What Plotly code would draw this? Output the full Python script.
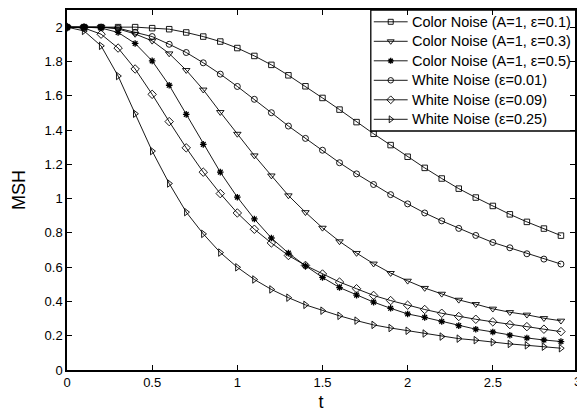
import plotly.graph_objects as go

t = [round(0.1 * i, 1) for i in range(30)]

color_01 = [2.0, 2.0, 2.0, 2.0, 2.0, 1.994, 1.988, 1.969, 1.945, 1.916,
            1.878, 1.832, 1.78, 1.719, 1.655, 1.587, 1.519, 1.446, 1.378, 1.312,
            1.244, 1.179, 1.117, 1.058, 1.006, 0.957, 0.908, 0.864, 0.825, 0.784]
color_03 = [2.0, 2.0, 2.0, 1.99, 1.96, 1.92, 1.846, 1.749, 1.635, 1.504,
            1.377, 1.251, 1.134, 1.018, 0.92, 0.829, 0.75, 0.682, 0.62, 0.565,
            0.52, 0.478, 0.444, 0.409, 0.384, 0.357, 0.337, 0.322, 0.302, 0.287]
color_05 = [2.0, 2.0, 1.995, 1.969, 1.905, 1.803, 1.661, 1.491, 1.316, 1.154,
            1.008, 0.881, 0.77, 0.682, 0.608, 0.54, 0.481, 0.437, 0.396, 0.36,
            0.327, 0.307, 0.283, 0.259, 0.238, 0.222, 0.203, 0.187, 0.175, 0.166]
white_001 = [2.0, 2.0, 2.0, 1.994, 1.97, 1.945, 1.90, 1.852, 1.792, 1.726,
             1.654, 1.579, 1.501, 1.423, 1.351, 1.282, 1.209, 1.144, 1.082, 1.023,
             0.969, 0.916, 0.87, 0.826, 0.785, 0.744, 0.713, 0.678, 0.647, 0.618]
white_009 = [2.0, 1.995, 1.959, 1.878, 1.756, 1.608, 1.449, 1.296, 1.154, 1.029,
             0.916, 0.821, 0.741, 0.668, 0.61, 0.56, 0.513, 0.474, 0.435, 0.405,
             0.378, 0.353, 0.331, 0.312, 0.296, 0.281, 0.265, 0.253, 0.238, 0.224]
white_025 = [2.0, 1.978, 1.891, 1.715, 1.495, 1.277, 1.088, 0.921, 0.794, 0.685,
             0.599, 0.528, 0.47, 0.422, 0.38, 0.346, 0.316, 0.288, 0.263, 0.245,
             0.229, 0.213, 0.195, 0.183, 0.174, 0.162, 0.152, 0.144, 0.136, 0.127]

names = ["Color Noise (A=1, ε=0.1)", "Color Noise (A=1, ε=0.3)",
         "Color Noise (A=1, ε=0.5)", "White Noise (ε=0.01)",
         "White Noise (ε=0.09)", "White Noise (ε=0.25)"]
series = [color_01, color_03, color_05, white_001, white_009, white_025]
symbols = ["square-open", "triangle-down-open", "asterisk-open",
           "circle-open", "diamond-open", "triangle-right-open"]

x_tickvals = [0, 0.5, 1, 1.5, 2, 2.5]
x_ticktext = ["0", "0.5", "1", "1.5", "2", "2.5"]
y_tickvals = [0, 0.2, 0.4, 0.6, 0.8, 1, 1.2, 1.4, 1.6, 1.8, 2]
y_ticktext = ["0", "0.2", "0.4", "0.6", "0.8", "1", "1.2", "1.4", "1.6", "1.8", "2"]

# ---- styling / layout constants (not data) ----
FONT = "Liberation Sans, Arial, Helvetica, sans-serif"
sizes = [5.5, 6.5, 5.5, 6, 6.5, 6.5]
L, R, T, B = 67, 577, 10, 370          # plot area in pixels
LEG_LEFT, LEG_BOTTOM = 372, 131        # legend box (right edge off-canvas)
LEG_Y0, LEG_DY = 21.8, 19.5            # legend row centres
LEG_LINE = (375, 409)
LEG_TEXT_X = 411

fig = go.Figure()
for name, ys, sym, sz in zip(names, series, symbols, sizes):
    fig.add_trace(go.Scatter(
        x=t, y=ys, name=name, mode="lines+markers", showlegend=False,
        line=dict(color="black", width=0.9),
        marker=dict(symbol=sym, size=sz, color="black",
                    line=dict(color="black", width=0.9 if sym != "asterisk-open" else 1.3)),
    ))

# legend drawn on an overlay pixel-space axis
fig.add_trace(go.Scatter(
    x=[LEG_LEFT, LEG_LEFT, R + 20, R + 20, LEG_LEFT],
    y=[T, LEG_BOTTOM, LEG_BOTTOM, T, T],
    xaxis="x2", yaxis="y2", mode="lines", fill="toself",
    fillcolor="white", line=dict(color="black", width=1.3),
    showlegend=False, hoverinfo="skip"))
annotations = []
for i, (name, sym, sz) in enumerate(zip(names, symbols, sizes)):
    yc = LEG_Y0 + i * LEG_DY
    fig.add_trace(go.Scatter(
        x=[LEG_LINE[0], LEG_LINE[1]], y=[yc, yc], xaxis="x2", yaxis="y2",
        mode="lines", line=dict(color="black", width=0.9),
        showlegend=False, hoverinfo="skip"))
    fig.add_trace(go.Scatter(
        x=[(LEG_LINE[0] + LEG_LINE[1]) / 2], y=[yc], xaxis="x2", yaxis="y2",
        mode="markers", showlegend=False, hoverinfo="skip",
        marker=dict(symbol=sym, size=sz - 0.5, color="black",
                    line=dict(color="black", width=0.9 if sym != "asterisk-open" else 1.3))))
    annotations.append(dict(x=LEG_TEXT_X, y=yc, xref="x2", yref="y2", text=name,
                            showarrow=False, xanchor="left", yanchor="middle",
                            font=dict(family=FONT, size=14.5, color="black")))

annotations.append(dict(x=1 + 3 / 510, y=0, xref="paper", yref="paper",
                        text="3", showarrow=False, xanchor="center", yanchor="top",
                        yshift=-2, font=dict(family=FONT, size=13)))

fig.update_layout(
    width=577, height=416,
    margin=dict(l=L, r=577 - R, t=T, b=416 - B),
    paper_bgcolor="white", plot_bgcolor="white",
    font=dict(family=FONT, size=12, color="black"),
    showlegend=False,
    xaxis=dict(range=[0, 2.9825], tickvals=x_tickvals, ticktext=x_ticktext,
               ticks="inside", ticklen=5, tickwidth=1, tickcolor="black",
               showline=True, linecolor="black", linewidth=1.5, mirror="ticks",
               showgrid=False, zeroline=False,
               tickfont=dict(family=FONT, size=13),
               title=dict(text="t", font=dict(family=FONT, size=18), standoff=6)),
    yaxis=dict(range=[0, 2.1], tickvals=y_tickvals, ticktext=y_ticktext,
               ticks="inside", ticklen=5, tickwidth=1, tickcolor="black",
               showline=True, linecolor="black", linewidth=1.5, mirror="ticks",
               showgrid=False, zeroline=False,
               tickfont=dict(family=FONT, size=13),
               title=dict(text="MSH", font=dict(family=FONT, size=18), standoff=14)),
    xaxis2=dict(overlaying="x", range=[L, R], visible=False, fixedrange=True),
    yaxis2=dict(overlaying="y", range=[B, T], visible=False, fixedrange=True),
    annotations=annotations,
)

fig.write_html("out.html")
